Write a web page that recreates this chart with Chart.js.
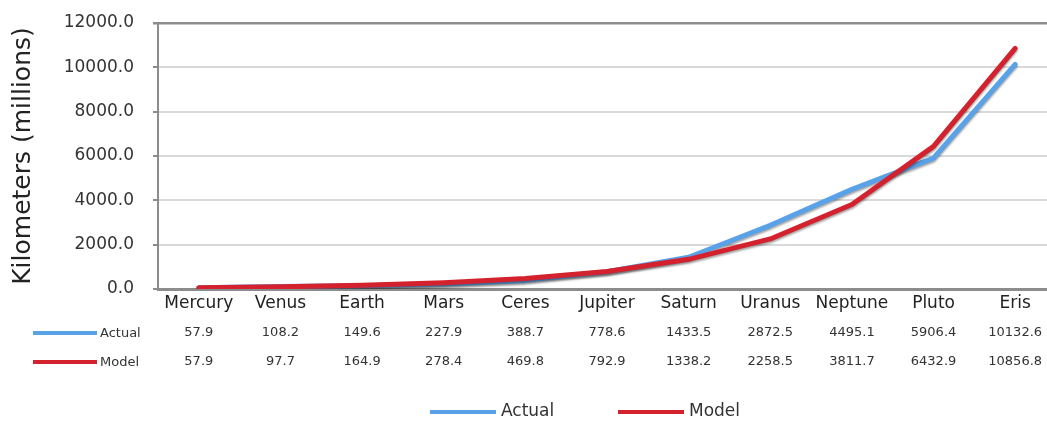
<!DOCTYPE html>
<html>
<head>
<meta charset="utf-8">
<script src="https://cdn.jsdelivr.net/npm/chart.js@4"></script>
<style>
  html, body { margin: 0; padding: 0; background: #fff; overflow: hidden; }
  #wrap { width: 1056px; height: 423px; }
</style>
</head>
<body>
<div id="wrap"><canvas id="planetChart"></canvas></div>
<script>
// Data
const planets = ["Mercury","Venus","Earth","Mars","Ceres","Jupiter","Saturn","Uranus","Neptune","Pluto","Eris"];
const actual = [57.9,108.2,149.6,227.9,388.7,778.6,1433.5,2872.5,4495.1,5906.4,10132.6];
const model  = [57.9,97.7,164.9,278.4,469.8,792.9,1338.2,2258.5,3811.7,6432.9,10856.8];
const seriesNames = ["Actual","Model"];
const yTicks = [0,2000,4000,6000,8000,10000,12000];

const BLUE = "#5aa2e8", RED = "#d3222d";
const FONT = "'DejaVu Sans', sans-serif";

// shadow under the lines
const lineShadow = {
  id: "lineShadow",
  beforeDatasetDraw(chart) {
    const c = chart.ctx;
    c.save();
    c.shadowColor = "rgba(0,0,0,0.35)";
    c.shadowOffsetY = 2;
    c.shadowBlur = 2;
  },
  afterDatasetDraw(chart) { chart.ctx.restore(); }
};

// data table under the axis + bottom legend
const dataTable = {
  id: "dataTable",
  afterDraw(chart) {
    const c = chart.ctx, x = chart.scales.x;
    const rows = [actual, model], colors = [BLUE, RED], rowY = [333, 362];
    c.save();
    c.textBaseline = "middle";
    rows.forEach((vals, r) => {
      // key
      c.strokeStyle = colors[r];
      c.lineWidth = 4;
      c.beginPath(); c.moveTo(33, rowY[r]); c.lineTo(97, rowY[r]); c.stroke();
      c.fillStyle = "#333";
      c.font = "13px " + FONT;
      c.textAlign = "left";
      c.fillText(seriesNames[r], 100, rowY[r] + 1);
      c.textAlign = "center";
      vals.forEach((v, i) => c.fillText(v.toFixed(1), x.getPixelForValue(i), rowY[r]));
    });

    // legend
    const ly = 412, items = [[430, BLUE], [618, RED]];
    c.font = "17px " + FONT;
    c.textAlign = "left";
    items.forEach(([lx, col], i) => {
      c.strokeStyle = col;
      c.lineWidth = 4;
      c.beginPath(); c.moveTo(lx, ly); c.lineTo(lx + 66, ly); c.stroke();
      c.fillStyle = "#333";
      c.fillText(seriesNames[i], lx + 71, ly);
    });
    c.restore();
  }
};

new Chart(document.getElementById("planetChart"), {
  type: "line",
  data: {
    labels: planets,
    datasets: [
      { label: seriesNames[0], data: actual, borderColor: BLUE, backgroundColor: BLUE, order: 1 },
      { label: seriesNames[1], data: model, borderColor: RED, backgroundColor: RED, order: 0 }
    ]
  },
  options: {
    responsive: true,
    maintainAspectRatio: false,
    animation: false,
    layout: { padding: { top: 23, left: 0, right: 0, bottom: 0 } },
    elements: {
      line: { borderWidth: 5, tension: 0, borderCapStyle: "round", borderJoinStyle: "round" },
      point: { radius: 0, hoverRadius: 0 }
    },
    plugins: { legend: { display: false }, tooltip: { enabled: false } },
    scales: {
      x: {
        offset: true,
        grid: { display: false, drawTicks: false },
        border: { color: "#8c8c8c", width: 3 },
        ticks: { color: "#222", font: { family: FONT, size: 17 }, padding: 4, maxRotation: 0, autoSkip: false },
        afterFit: (s) => { s.height = 134; s.paddingLeft = 0; s.paddingRight = 0; }
      },
      y: {
        min: yTicks[0],
        max: yTicks[yTicks.length - 1],
        afterBuildTicks: (s) => { s.ticks = yTicks.map(v => ({ value: v })); },
        grid: {
          color: (ctx) => ctx.tick && ctx.tick.value === 12000 ? "#8c8c8c" : "#d9d9d9",
          lineWidth: (ctx) => ctx.tick && ctx.tick.value === 12000 ? 2.5 : 2,
          tickColor: "#8c8c8c",
          tickLength: 5
        },
        border: { color: "#8c8c8c", width: 2 },
        ticks: { color: "#333", font: { family: FONT, size: 17 }, padding: 19, callback: (v) => Number(v).toFixed(1) },
        title: { display: true, text: "Kilometers (millions)", color: "#222", font: { family: FONT, size: 25 }, padding: { top: 8, bottom: 0 } },
        afterFit: (s) => { s.width = 158; s.paddingTop = 0; s.paddingBottom = 0; }
      }
    }
  },
  plugins: [lineShadow, dataTable]
});
</script>
</body>
</html>
